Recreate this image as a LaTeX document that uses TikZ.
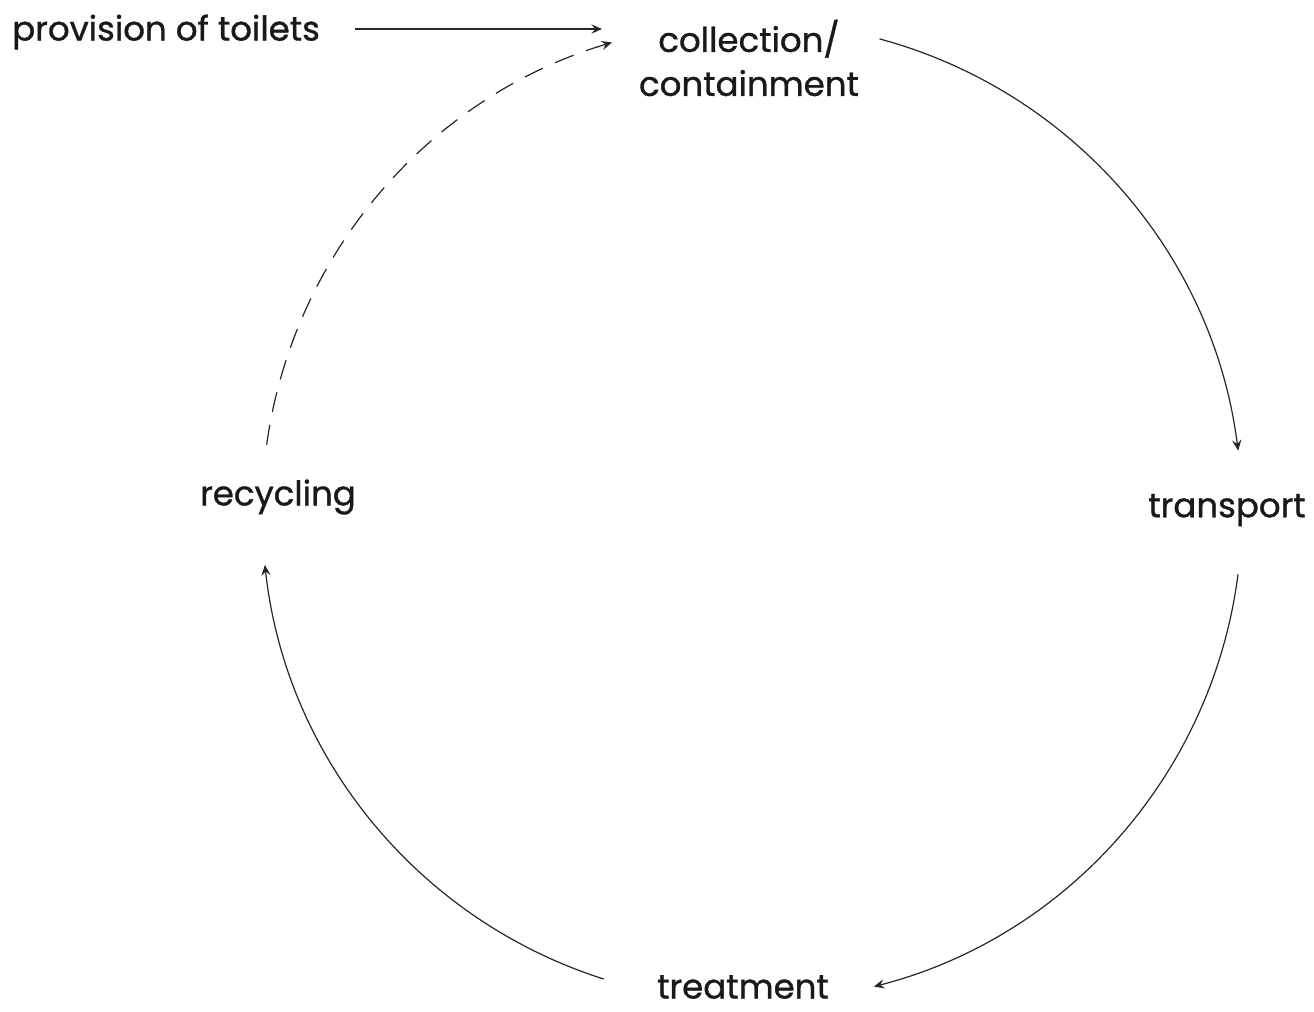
\documentclass[tikz,border=0pt]{standalone}
\usepackage{fontspec}
\setmainfont{Poppins}[FakeBold=1.0]
\usetikzlibrary{arrows.meta,calc}
\begin{document}
\begin{tikzpicture}[x=0.75pt,y=-0.75pt,
  lbl/.style={inner sep=0pt,font=\fontsize{25.5}{33}\selectfont,text=black!90},
  conn/.style={line width=0.9pt,draw=black!85,-{Stealth[length=8pt,width=7pt,inset=3pt]}},
  dashconn/.style={conn,dash pattern=on 15pt off 10pt}]
\useasboundingbox (0,0) rectangle (1314,1011);
\def\R{490}
\coordinate (O) at (752,512);
\node[lbl,anchor=west] (prov) at (12,32) {provision of toilets};
\node[lbl,align=center] (coll) at (749,58) {collection/\\containment};
\node[lbl] (trans) at (1227,510) {transport};
\node[lbl] (treat) at (743,987) {treatment};
\node[lbl] (recy) at (278,497) {recycling};
\coordinate (pe) at (602,29);
\coordinate (ps) at (355,29);
\draw[conn] (ps) -- (pe);
\coordinate (a1) at ($(O)+(-74.9:\R)$);
\coordinate (a2) at ($(O)+(-172.1:\R)$);
\coordinate (a3) at ($(O)+(107.6:\R)$);
\coordinate (a5) at ($(O)+(7.3:\R)$);
\draw[conn] (a1) arc[start angle=-74.9,end angle=-7.2,radius=\R];
\draw[conn] (a5) arc[start angle=7.3,end angle=75.6,radius=\R];
\draw[conn] (a3) arc[start angle=107.6,end angle=173.8,radius=\R];
\draw[dashconn] (a2) arc[start angle=-172.1,end angle=-106.6,radius=\R];
\end{tikzpicture}
\end{document}
